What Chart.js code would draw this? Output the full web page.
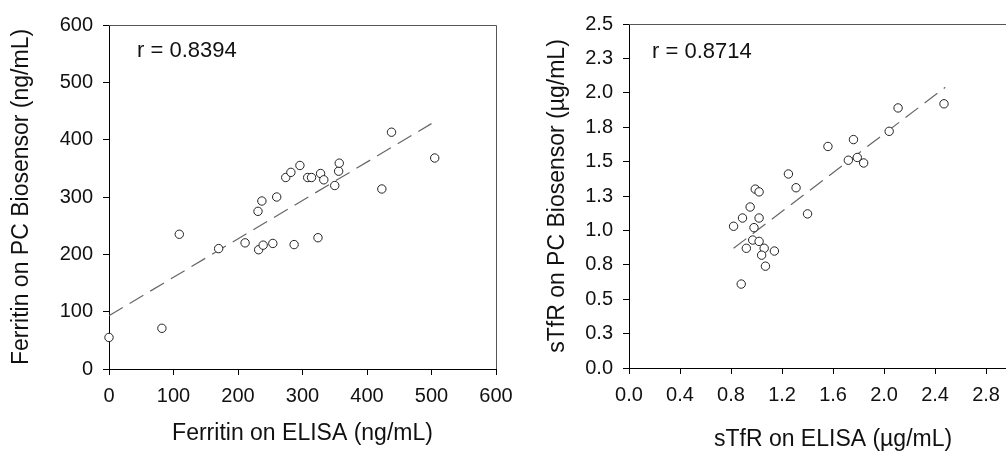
<!DOCTYPE html>
<html>
<head>
<meta charset="utf-8">
<script src="https://cdn.jsdelivr.net/npm/chart.js@4/dist/chart.umd.min.js"></script>
<style>
  html, body { margin: 0; padding: 0; background: #fff; overflow: hidden; width: 1006px; height: 451px; }
  canvas { position: absolute; top: 0; }
  #ferritinChart { left: 0; }
  #stfrChart { left: 540px; }
</style>
</head>
<body>
<canvas id="ferritinChart" width="530" height="451"></canvas>
<canvas id="stfrChart" width="520" height="456"></canvas>
<script>
// ferritin panel
const ferritinElisa = [0, 82, 109, 170, 211, 232, 239, 254, 287, 324, 231, 237, 260, 274, 282, 296, 308, 314, 328, 333, 350, 356, 357, 423, 438, 505];
const ferritinPC = [55, 71, 235, 210, 220, 208, 216, 219, 217, 229, 275, 293, 300, 334, 343, 355, 334, 334, 341, 330, 320, 345, 359, 314, 413, 368];
const ferritinFitX = [0, 500];
const ferritinFitY = [93, 428];
const ferritinXTicks = ["0", "100", "200", "300", "400", "500", "600"];
const ferritinYTicks = ["0", "100", "200", "300", "400", "500", "600"];
const ferritinR = "r = 0.8394";

// sTfR panel
const stfrElisa = [0.82, 0.89, 0.95, 0.99, 1.02, 1.02, 0.98, 0.97, 1.02, 0.92, 1.06, 1.04, 1.07, 1.14, 0.88, 1.25, 1.31, 1.40, 1.56, 1.76, 1.72, 1.79, 1.84, 2.04, 2.11, 2.47];
const stfrPC = [1.03, 1.09, 1.17, 1.30, 1.28, 1.09, 1.02, 0.93, 0.92, 0.87, 0.87, 0.82, 0.74, 0.85, 0.61, 1.41, 1.31, 1.12, 1.61, 1.66, 1.51, 1.53, 1.49, 1.72, 1.89, 1.92];
const stfrFitX = [0.82, 2.48];
const stfrFitY = [0.87, 2.04];
const stfrXTicks = ["0.0", "0.4", "0.8", "1.2", "1.6", "2.0", "2.4", "2.8", "3.2"];
const stfrYTicks = ["0.0", "0.3", "0.5", "0.8", "1.0", "1.3", "1.5", "1.8", "2.0", "2.3", "2.5"];
const stfrR = "r = 0.8714";

const FONT = "'Liberation Sans', Arial, sans-serif";
const INK = "#111";

function pairs(xs, ys) {
  return xs.map((x, i) => ({ x: x, y: ys[i] }));
}

// top/right box lines and the r value
const framePlugin = {
  id: "frame",
  afterDraw(chart, args, opts) {
    const ctx = chart.ctx;
    const a = chart.chartArea;
    ctx.save();
    ctx.strokeStyle = "#555";
    ctx.lineWidth = 1;
    ctx.beginPath();
    ctx.moveTo(a.left, a.top + 0.5);
    ctx.lineTo(a.right + 0.5, a.top + 0.5);
    ctx.lineTo(a.right + 0.5, a.bottom);
    ctx.stroke();
    ctx.fillStyle = INK;
    ctx.font = "22px " + FONT;
    ctx.textBaseline = "middle";
    ctx.fillText(opts.text, a.left + opts.dx, a.top + opts.dy);
    ctx.restore();
  }
};

function axis(min, max, step, labels, title, titlePad, fixedSize, horizontal) {
  return {
    type: "linear",
    min: min,
    max: max,
    border: { display: true, color: "#000", width: 1 },
    grid: { display: true, drawOnChartArea: false, drawTicks: true, tickLength: 6, color: "#000" },
    ticks: {
      stepSize: step,
      color: INK,
      padding: horizontal ? 9 : 10,
      font: { family: FONT, size: 20 },
      maxRotation: 0,
      autoSkip: false,
      callback: (v, i) => labels[i]
    },
    title: {
      display: true,
      text: title,
      color: INK,
      font: { family: FONT, size: 23 },
      padding: titlePad
    },
    afterFit(scale) {
      if (horizontal) scale.height = fixedSize;
      else scale.width = fixedSize;
    }
  };
}

function makeChart(id, xs, ys, fx, fy, xAxis, yAxis, padding, rText, rdx, rdy) {
  new Chart(document.getElementById(id).getContext("2d"), {
    type: "scatter",
    data: {
      datasets: [
        {
          data: pairs(xs, ys),
          clip: false,
          pointStyle: "circle",
          pointRadius: 4.2,
          pointBorderWidth: 1,
          pointBorderColor: "#222",
          pointBackgroundColor: "#fff"
        },
        {
          type: "line",
          data: pairs(fx, fy),
          showLine: true,
          borderColor: "#666",
          borderWidth: 1.2,
          borderDash: [16, 8],
          pointRadius: 0,
          fill: false
        }
      ]
    },
    options: {
      responsive: false,
      animation: false,
      devicePixelRatio: 1,
      layout: { padding: padding },
      plugins: {
        legend: { display: false },
        tooltip: { enabled: false },
        frame: { text: rText, dx: rdx, dy: rdy }
      },
      scales: { x: xAxis, y: yAxis }
    },
    plugins: [framePlugin]
  });
}

makeChart(
  "ferritinChart", ferritinElisa, ferritinPC, ferritinFitX, ferritinFitY,
  axis(0, 600, 100, ferritinXTicks, "Ferritin on ELISA (ng/mL)", { top: 0, bottom: 4 }, 82, true),
  axis(0, 600, 100, ferritinYTicks, "Ferritin on PC Biosensor (ng/mL)", { top: 8, bottom: 0 }, 109, false),
  { top: 25, right: 34, left: 0, bottom: 0 },
  ferritinR, 28, 26
);

makeChart(
  "stfrChart", stfrElisa, stfrPC, stfrFitX, stfrFitY,
  axis(0, 3.2, 0.4, stfrXTicks, "sTfR on ELISA (\u00b5g/mL)", { top: 0, bottom: 3 }, 88, true),
  axis(0, 2.5, 0.25, stfrYTicks, "sTfR on PC Biosensor (\u00b5g/mL)", { top: 4, bottom: 0 }, 89, false),
  { top: 24, right: 18.5, left: 0, bottom: 0 },
  stfrR, 23, 28
);
</script>
</body>
</html>
